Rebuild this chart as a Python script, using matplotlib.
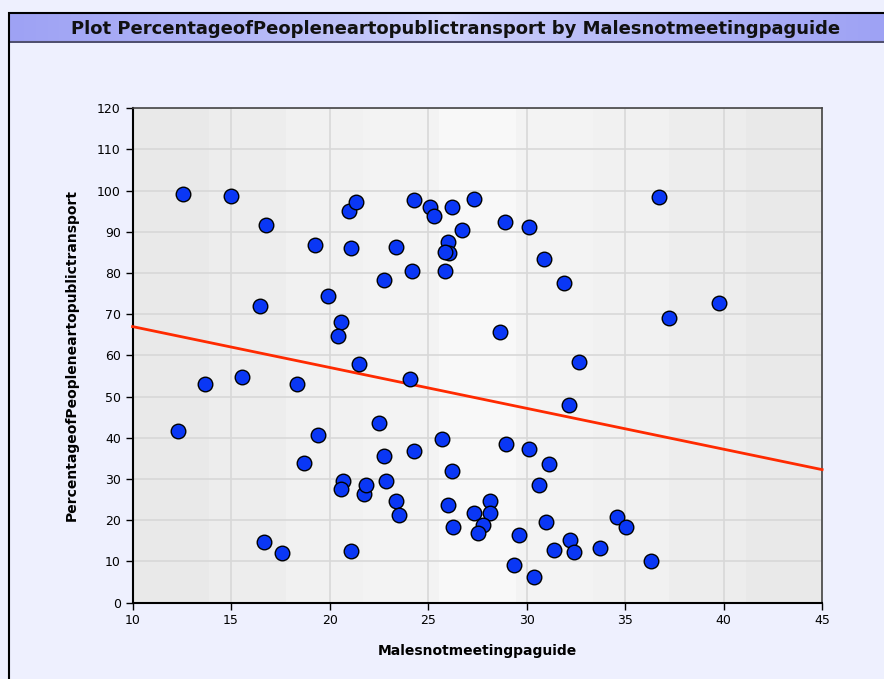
import numpy as np
import matplotlib.pyplot as plt
from matplotlib.patches import Rectangle
from matplotlib.colors import LinearSegmentedColormap

# values
males_not_meeting = [
    12.57, 14.99, 16.77, 19.25, 16.46, 19.93, 20.60, 20.44, 21.00, 21.35,
    21.08, 23.35, 22.77, 24.18, 24.26, 25.10, 25.28, 26.19, 27.34, 26.70,
    26.02, 26.06, 25.84, 25.85, 28.88, 30.12, 30.88, 31.90, 28.63, 36.72,
    39.76, 37.22, 12.31, 13.70, 15.56, 18.37, 19.42, 18.70, 16.67, 17.58,
    21.08, 20.66, 20.57, 21.74, 21.86, 21.50, 24.09, 32.64, 32.13, 22.50,
    25.68, 22.76, 24.28, 28.95, 30.10, 31.12, 26.21, 22.86, 23.37, 23.52,
    30.62, 26.02, 26.27, 27.34, 28.15, 28.14, 27.78, 27.51, 29.62, 30.96,
    29.34, 30.37, 31.40, 32.20, 32.40, 33.72, 34.57, 35.04, 36.30,
]
pct_near_transport = [
    99.2, 98.8, 91.6, 86.7, 72.0, 74.4, 68.1, 64.7, 95.1, 97.2,
    86.0, 86.4, 78.4, 80.4, 97.7, 96.0, 93.9, 96.0, 98.0, 90.5,
    87.6, 84.8, 85.2, 80.4, 92.4, 91.3, 83.3, 77.6, 65.6, 98.4,
    72.8, 69.2, 41.6, 53.2, 54.8, 53.2, 40.7, 34.0, 14.8, 12.1,
    12.5, 29.6, 27.5, 26.4, 28.5, 58.0, 54.4, 58.4, 47.9, 43.6,
    39.7, 35.6, 36.9, 38.4, 37.2, 33.6, 32.0, 29.6, 24.8, 21.2,
    28.5, 23.7, 18.4, 21.7, 24.8, 21.7, 18.9, 16.8, 16.4, 19.7,
    9.15, 6.3, 12.8, 15.2, 12.4, 13.2, 20.7, 18.4, 10.0,
]

x_ticks = [10, 15, 20, 25, 30, 35, 40, 45]
y_ticks = list(range(0, 121, 10))

fig = plt.figure(figsize=(8.84, 6.79), dpi=100)
fig.patch.set_facecolor('#EEF0FE')

# outer frame and title bar
fig.patches.append(Rectangle((9/884, -0.01), 1.0, 1 - 13/679 + 0.01, transform=fig.transFigure,
                             fill=False, edgecolor='black', linewidth=1.5))
grad = np.abs(np.linspace(-1, 1, 256)) ** 0.7
tb = fig.add_axes([10/884, 1 - 43/679, 1 - 10/884, 29/679])
tb_cmap = LinearSegmentedColormap.from_list('tb', ['#D3D6FC', '#9EA2F4'])
tb.imshow(grad[None, :], aspect='auto', cmap=tb_cmap, vmin=0, vmax=1,
          extent=[0, 1, 0, 1], interpolation='bilinear')
tb.set_xlim(0, 1)
tb.set_ylim(0, 1)
tb.set_axis_off()
tb.axhline(0.03, color='#505070', linewidth=1.5)
fig.text(0.515, 1 - 29/679, 'Plot PercentageofPeopleneartopublictransport by Malesnotmeetingpaguide',
         ha='center', va='center', fontsize=13, fontweight='bold', color='#111111')

ax = fig.add_axes([0.150, 0.1124, 0.780, 0.7281])
ax.set_xlim(10, 45)
ax.set_ylim(0, 120)

# banded grey background, lighter in the middle
band = 1 - 0.6 * np.abs(np.linspace(-1, 1, 9))
ax.imshow(band[None, :], aspect='auto', cmap='gray', vmin=-9, vmax=1.3,
          extent=[10, 45, 0, 120], zorder=0)

ax.set_xticks(x_ticks)
ax.set_yticks(y_ticks)
ax.grid(True, color='#D8D8D8', linewidth=1.2, zorder=1)
ax.tick_params(direction='out', length=5, width=1, labelsize=9, color='black')

for side in ['left', 'bottom']:
    ax.spines[side].set_linewidth(1.5)
    ax.spines[side].set_color('black')
for side in ['top', 'right']:
    ax.spines[side].set_linewidth(1.2)
    ax.spines[side].set_color('#444444')

# least squares line through the points, across the x range
slope, icpt = np.polyfit(males_not_meeting, pct_near_transport, 1)
xx = np.array(ax.get_xlim())
ax.plot(xx, slope * xx + icpt, color='#FF2A00', linewidth=2.0, zorder=3, clip_on=False)
ax.scatter(males_not_meeting, pct_near_transport, s=110, color='#0A37F5',
           edgecolors='black', linewidths=1.0, zorder=4)

ax.set_xlabel('Malesnotmeetingpaguide', fontsize=10, fontweight='bold', labelpad=12)
ax.set_ylabel('PercentageofPeopleneartopublictransport', fontsize=10, fontweight='bold', labelpad=13)

fig.savefig('out.png', dpi=100, facecolor=fig.get_facecolor())
